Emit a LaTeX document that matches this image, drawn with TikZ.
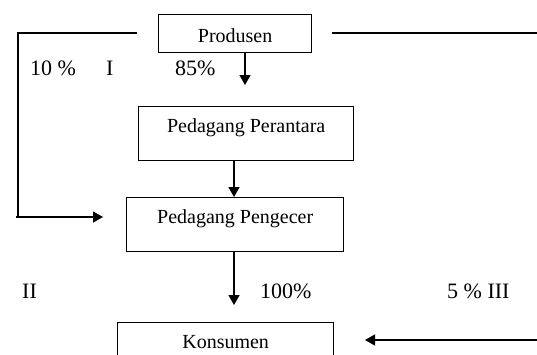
\documentclass[tikz,border=0pt]{standalone}
\usepackage{fontspec}
\setmainfont{Liberation Serif}
\usetikzlibrary{arrows.meta}
\begin{document}
\begin{tikzpicture}[x=1pt,y=-1pt,
  boxnode/.style={draw,line width=1.3pt,inner sep=0pt,anchor=north west,
    font=\fontsize{20}{24}\selectfont,text height=13pt,text depth=15pt},
  lbl/.style={anchor=base west,inner sep=0pt,font=\fontsize{22}{26}\selectfont},
  conn/.style={line width=1.3pt},
  arr/.style={conn,-{Triangle[length=10pt,width=11pt]}}]
\clip (0,0) rectangle (537,354);
\node[boxnode,minimum width=153pt,minimum height=38pt,text height=18pt,text depth=0pt] (prod) at (158,14) {Produsen};
\node[boxnode,minimum width=215pt,minimum height=54pt] (pera) at (138,106) {Pedagang Perantara};
\node[boxnode,minimum width=217pt,minimum height=54pt] (peng) at (126,197) {Pedagang Pengecer};
\node[boxnode,minimum width=216pt,minimum height=54pt] (kons) at (117,322) {Konsumen};
% labels
\node[lbl] (l10) at (30,75) {10 \%};
\node[lbl] (lI) at (106,75) {I};
\node[lbl] (l85) at (175,75) {85\%};
\node[lbl] (lII) at (22,298) {II};
\node[lbl] (l100) at (260,298) {100\%};
\node[lbl] (l5) at (447,298) {5 \% III};
% free ends
\coordinate (tla) at (137,33);
\coordinate (tlb) at (18,33);
\coordinate (tlc) at (18,217);
\coordinate (la) at (16,217);
\coordinate (lb) at (103,217);
\coordinate (tra) at (332,33);
\coordinate (trb) at (540,33);
\coordinate (ra) at (540,340);
\coordinate (rb) at (365,340);
\coordinate (a1) at (245,85);
\coordinate (a3) at (234,305);
% connectors
\draw[conn] (tla) -- (tlb) -- (tlc);
\draw[arr] (la) -- (lb);
\draw[conn] (tra) -- (trb);
\draw[arr] (ra) -- (rb);
\draw[arr] (prod.south -| a1) -- (a1);
\draw[arr] (pera.south -| a3) -- (peng.north -| a3);
\draw[arr] (peng.south -| a3) -- (a3);
\end{tikzpicture}
\end{document}
